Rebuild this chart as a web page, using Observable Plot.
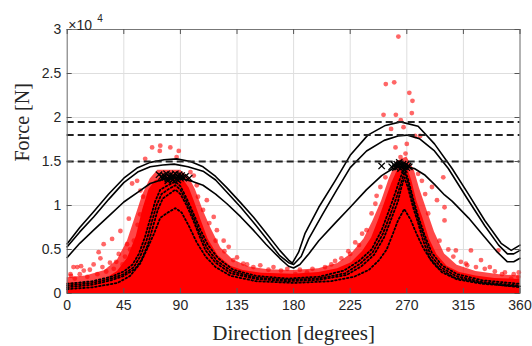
<!DOCTYPE html>
<html><head><meta charset="utf-8">
<script src="https://cdn.jsdelivr.net/npm/d3@7"></script>
<script src="https://cdn.jsdelivr.net/npm/@observablehq/plot@0.6"></script>
<style>body{margin:0;background:#fff}#chart svg{display:block}</style>
</head><body><div id="chart"></div>
<script>
// Direction [deg] and force [x10^4 N]
const xTicks = [0,45,90,135,180,225,270,315,360];
const yTicks = [0,0.5,1,1.5,2,2.5,3];
const yTickLabels = ["0","0.5","1","1.5","2","2.5","3"];
const limitLevels = [1.5,1.8,1.95];

// solid capacity curves
const s1Dir = [0,10,21,33,45,56,66,77,87,98,108,118,127,138,148,158,169,176,179,184,189,200,213,225,239,253,265,279,292,306,319,332,345,353,360];
const s1Val = [0.565,0.75,0.93,1.13,1.31,1.43,1.49,1.52,1.53,1.50,1.44,1.33,1.20,1.03,0.87,0.69,0.49,0.38,0.345,0.47,0.68,0.98,1.28,1.57,1.80,1.91,1.95,1.90,1.70,1.42,1.13,0.83,0.57,0.49,0.55];
const s2Dir = [0,10,21,33,45,56,66,76,85,96,108,118,127,138,148,158,169,176,180,186,192,203,214,225,238,252,263,270,280,292,303,318,332,343,350,355,360];
const s2Val = [0.53,0.70,0.87,1.07,1.26,1.38,1.44,1.46,1.47,1.44,1.39,1.29,1.15,0.98,0.81,0.63,0.43,0.35,0.33,0.42,0.62,0.90,1.17,1.43,1.62,1.74,1.79,1.80,1.76,1.62,1.42,1.08,0.77,0.55,0.45,0.45,0.49];
const s3Dir = [0,10,21,33,45,56,66,77,87,98,108,118,127,138,148,158,169,176,180,185,192,200,213,225,238,250,259,267,276,284,292,300,306,319,332,342,350,355,360];
const s3Val = [0.41,0.57,0.72,0.88,1.04,1.15,1.25,1.30,1.32,1.28,1.23,1.13,1.02,0.87,0.72,0.56,0.40,0.31,0.29,0.33,0.45,0.60,0.80,0.98,1.18,1.34,1.42,1.45,1.42,1.35,1.24,1.12,1.05,0.86,0.64,0.47,0.36,0.36,0.40];

// dotted curves
const d1Dir = [0,20,35,45,52,57,62,66,70,74,80,86,90,95,100,106,112,120,132,150,175,200,220,232,242,250,256,261,265,268,271,275,279,284,290,298,310,330,360];
const d1Val = [0.11,0.14,0.19,0.25,0.33,0.45,0.65,0.85,1.05,1.18,1.23,1.27,1.22,1.08,0.92,0.72,0.55,0.40,0.27,0.20,0.17,0.19,0.26,0.37,0.50,0.72,0.95,1.15,1.32,1.42,1.30,1.08,0.88,0.67,0.46,0.32,0.22,0.15,0.11];
const d2Dir = [0,20,35,45,53,58,63,67,71,75,81,86,90,95,100,105,111,119,131,150,175,200,221,233,243,251,257,262,266,268,271,275,279,284,289,297,309,330,360];
const d2Val = [0.09,0.12,0.17,0.22,0.30,0.42,0.60,0.80,1.00,1.13,1.19,1.23,1.18,1.04,0.88,0.70,0.52,0.37,0.25,0.18,0.155,0.17,0.23,0.34,0.47,0.68,0.90,1.10,1.28,1.38,1.26,1.04,0.84,0.63,0.43,0.30,0.20,0.13,0.09];
const d3Dir = [0,20,35,45,54,59,64,68,72,76,82,86,90,95,100,105,110,118,130,150,175,200,222,234,244,252,258,263,266,268,271,275,279,283,288,296,308,330,360];
const d3Val = [0.07,0.10,0.15,0.20,0.28,0.38,0.55,0.75,0.95,1.08,1.14,1.18,1.13,1.00,0.84,0.66,0.49,0.35,0.23,0.165,0.14,0.155,0.21,0.31,0.44,0.64,0.86,1.05,1.22,1.32,1.20,0.98,0.80,0.60,0.41,0.28,0.18,0.12,0.07];
const d4Dir = [0,20,40,50,58,64,69,74,80,86,91,97,103,110,118,130,150,180,210,228,240,248,254,259,263,268,273,278,283,290,298,310,330,360];
const d4Val = [0.05,0.07,0.12,0.20,0.34,0.52,0.68,0.86,0.92,0.97,0.92,0.76,0.58,0.42,0.30,0.20,0.14,0.12,0.14,0.19,0.27,0.38,0.50,0.68,0.83,0.96,0.84,0.67,0.52,0.36,0.24,0.16,0.11,0.08];

// dense red scatter: solid core and fuzzy fringe envelopes
const coreDir = [0,10,20,30,40,48,55,60,65,70,75,85,92,97,101,106,112,120,130,140,155,180,200,215,226,235,242,248,253,258,262,266,270,274,278,283,288,294,302,312,325,340,360];
const coreVal = [0.12,0.12,0.13,0.16,0.25,0.40,0.65,0.95,1.18,1.28,1.30,1.32,1.30,1.20,1.05,0.85,0.62,0.43,0.31,0.26,0.23,0.22,0.24,0.28,0.35,0.48,0.63,0.85,1.05,1.25,1.38,1.45,1.45,1.28,1.05,0.85,0.62,0.44,0.31,0.24,0.20,0.17,0.16];
const fringeDir = [0,15,30,40,48,55,60,66,72,90,97,102,108,114,122,132,145,160,180,200,215,226,236,243,250,256,262,270,276,280,286,292,300,310,325,345,360];
const fringeVal = [0.18,0.20,0.26,0.38,0.60,0.90,1.12,1.30,1.40,1.40,1.32,1.18,0.95,0.75,0.52,0.38,0.30,0.27,0.26,0.28,0.34,0.45,0.62,0.82,1.05,1.30,1.50,1.55,1.40,1.20,0.95,0.70,0.45,0.32,0.25,0.21,0.20];

// scattered red outliers
const outDir = [67.5,74,73.6,82,88.7,87,62,55.6,51.6,49,35.7,29,25,26.4,13.2,8,2.6,21,34,41,47.6,42.3,58.2,60.3,98,100.6,103,111,116.5,119,124.4,128.4,135,143,153.5,164,175,5,11,
  263.3,253.3,260,272,274.5,274,251.5,261.3,265.2,257.5,267.4,270,261,276.6,280.6,269,265,299,282,279,290,284.6,246,249,253,294,300,287,300,309,317,321,329,342.8,336,353,358.7,345.7,229,234.5,223.5,213,205,190.6,181.4,242,245,
  3,6,10,16,18,24,28,31,37,39,44,46,50,53,56,58,104,108,113,118,125,132,140,148,160,170,185,195,210,218,225,232,238,296,303,307,313,318,325,332,340,348,355,359];
const outVal = [1.66,1.68,1.62,1.66,1.62,1.55,1.53,1.28,1.25,0.85,0.62,0.56,0.47,0.40,0.26,0.30,0.22,0.33,0.35,0.45,0.56,0.71,1.17,1.10,1.38,1.34,1.23,1.06,0.87,0.72,0.60,0.53,0.41,0.33,0.32,0.30,0.28,0.30,0.31,
  2.92,2.38,2.40,2.28,2.19,2.05,2.03,2.03,1.97,1.87,1.89,1.70,1.66,1.79,1.79,1.59,1.55,1.32,1.28,1.36,1.21,1.13,1.11,1.21,1.32,1.06,0.98,0.91,0.83,0.49,0.34,0.49,0.38,0.49,0.30,0.17,0.19,0.22,0.58,0.68,0.48,0.37,0.30,0.24,0.22,0.91,1.02,
  0.20,0.17,0.22,0.19,0.27,0.22,0.30,0.25,0.28,0.36,0.33,0.42,0.50,0.60,0.78,0.90,1.10,0.95,0.80,0.60,0.48,0.38,0.34,0.30,0.27,0.26,0.27,0.28,0.33,0.40,0.45,0.55,0.72,0.60,0.50,0.42,0.36,0.32,0.30,0.28,0.25,0.24,0.22,0.24];

// black x markers
const markDir = [73,75,76,77,78,79,80,81,82,83,84,85,86,87,88,89,90,91,92,94,97,80,84,88,
  250,258,260,261,262,263,264,265,266,267,268,269,270,271,272,264,268];
const markVal = [1.35,1.33,1.31,1.34,1.32,1.36,1.30,1.33,1.35,1.31,1.34,1.32,1.36,1.30,1.33,1.35,1.31,1.34,1.32,1.33,1.31,1.28,1.29,1.29,
  1.45,1.44,1.46,1.43,1.47,1.44,1.46,1.42,1.45,1.47,1.44,1.46,1.43,1.45,1.44,1.49,1.41];

const zip = (dirs, vals, name) => dirs.map((d,i) => ({dir:d, val:vals[i], series:name}));
const solid = [...zip(s1Dir,s1Val,"s1"), ...zip(s2Dir,s2Val,"s2"), ...zip(s3Dir,s3Val,"s3")];
const dotted = [...zip(d1Dir,d1Val,"d1"), ...zip(d2Dir,d2Val,"d2"), ...zip(d3Dir,d3Val,"d3"), ...zip(d4Dir,d4Val,"d4")];
const core = zip(coreDir, coreVal, "core");
const fringe = zip(fringeDir, fringeVal, "fringe");
const outliers = zip(outDir, outVal, "out");
const markers = zip(markDir, markVal, "mark");

const H = 346, mT = 29, mB = 53, mL = 66.7, mR = 12.5;
const fh = H - mT - mB, fw = 532 - mL - mR;
const axisColor = "#262626";

const chart = Plot.plot({
  width: 532, height: H,
  marginLeft: mL, marginRight: mR, marginTop: mT, marginBottom: mB,
  x: {domain: [0, 360]},
  y: {domain: [0, 3]},
  style: {fontFamily: "Liberation Sans, Arial, sans-serif", fontSize: "14px", color: axisColor, background: "#fff"},
  marks: [
    Plot.gridX(xTicks, {stroke: "#dedede", strokeOpacity: 1}),
    Plot.gridY(yTicks, {stroke: "#dedede", strokeOpacity: 1}),
    Plot.areaY(fringe, {x: "dir", y: "val", fill: "#ff0000", fillOpacity: 0.72}),
    Plot.areaY(core, {x: "dir", y: "val", fill: "#ff0000"}),
    Plot.dot(outliers, {x: "dir", y: "val", r: 2.4, fill: "#ff0000", fillOpacity: 0.6}),
    Plot.line(dotted, {x: "dir", y: "val", z: "series", stroke: "#000", strokeWidth: 1.8, strokeDasharray: "1.6,2.4"}),
    Plot.line(solid, {x: "dir", y: "val", z: "series", stroke: "#000", strokeWidth: 1.6}),
    Plot.ruleY(limitLevels, {stroke: "#222", strokeWidth: 2, strokeDasharray: "7,4"}),
    Plot.dot(markers, {x: "dir", y: "val", symbol: "times", r: 3, stroke: "#000", strokeWidth: 1.3}),
    Plot.frame({stroke: "#777", strokeWidth: 1}),
    Plot.tickX(xTicks, {x: d => d, insetTop: fh - 5, stroke: "#555"}),
    Plot.tickX(xTicks, {x: d => d, insetBottom: fh - 5, stroke: "#555"}),
    Plot.tickY(yTicks, {y: d => d, insetRight: fw - 5, stroke: "#555"}),
    Plot.tickY(yTicks, {y: d => d, insetLeft: fw - 5, stroke: "#555"}),
    Plot.axisX(xTicks, {tickSize: 0, tickPadding: 7, label: null, fontSize: 14, fill: axisColor}),
    Plot.axisY(yTicks, {tickSize: 0, tickPadding: 6, label: null, fontSize: 14, fill: axisColor,
      tickFormat: d => yTickLabels[yTicks.indexOf(d)]}),
    Plot.text(["Direction [degrees]"], {frameAnchor: "bottom", dy: 46, fontFamily: "Liberation Serif, Times New Roman, serif", fontSize: 21, fill: axisColor}),
    Plot.text(["Force [N]"], {frameAnchor: "left", dx: -45, rotate: -90, fontFamily: "Liberation Serif, Times New Roman, serif", fontSize: 20, fill: axisColor}),
    Plot.text(["\u00d710"], {frameAnchor: "top-left", dx: 1, dy: -9, textAnchor: "start", fontSize: 14, fill: axisColor}),
    Plot.text(["4"], {frameAnchor: "top-left", dx: 30, dy: -15, textAnchor: "start", fontSize: 10, fill: axisColor})
  ]
});
document.getElementById("chart").append(chart);
</script>
</body></html>
